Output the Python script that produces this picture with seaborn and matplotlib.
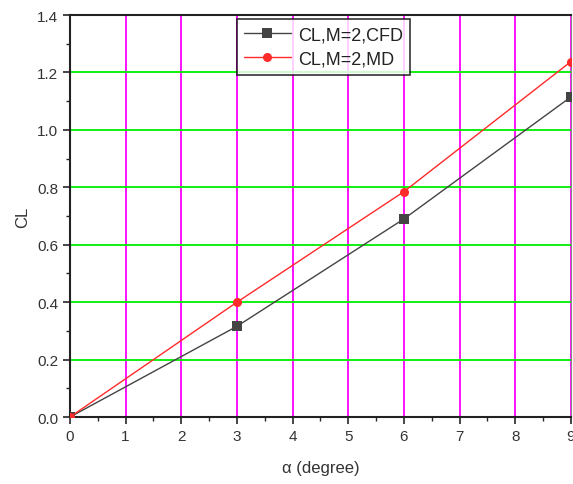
import numpy as np
import matplotlib
matplotlib.use("Agg")
import matplotlib.pyplot as plt
import seaborn as sns
import pandas as pd
from matplotlib.ticker import MultipleLocator

# data
alpha = [0, 3, 6, 9]
cl_cfd = [0.0, 0.316, 0.69, 1.115]
cl_md = [0.0, 0.40, 0.785, 1.238]
series_names = ["CL,M=2,CFD", "CL,M=2,MD"]

df = pd.DataFrame({
    "alpha": alpha * 2,
    "CL": cl_cfd + cl_md,
    "series": [series_names[0]] * len(alpha) + [series_names[1]] * len(alpha),
})

sns.set_style("white")
plt.rcParams["font.family"] = ["Liberation Sans", "DejaVu Sans"]

fig = plt.figure(figsize=(5.73, 4.85), dpi=100)
ax = fig.add_axes([0.122, 0.138, 0.8745, 0.829])

# grid
for x in range(1, 10):
    ax.axvline(x, color="#ff00ff", lw=1.3, zorder=1)
for y in np.arange(0.2, 1.41, 0.2):
    ax.axhline(y, color="#00ee00", lw=1.3, zorder=1)

sns.lineplot(data=df, x="alpha", y="CL", hue="series", style="series",
             palette=["#444444", "#ff2a2a"], markers=["s", "o"], dashes=False,
             markersize=6.5, markeredgewidth=0, lw=1, ax=ax, zorder=3)

ax.set_xlim(0, 9)
ax.set_ylim(0, 1.4)
ax.xaxis.set_major_locator(MultipleLocator(1))
ax.xaxis.set_minor_locator(MultipleLocator(0.5))
ax.yaxis.set_major_locator(MultipleLocator(0.2))
ax.yaxis.set_minor_locator(MultipleLocator(0.1))
ax.yaxis.set_major_formatter(plt.FormatStrFormatter("%.1f"))
ax.tick_params(which="major", direction="out", length=5, width=1.2,
               labelsize=11, labelcolor="#333333", bottom=True, left=True)
ax.tick_params(which="minor", direction="out", length=3, width=1,
               bottom=True, left=True)
for side in ["left", "bottom", "top"]:
    ax.spines[side].set_color("#222222")
    ax.spines[side].set_linewidth(1.5)
ax.spines["right"].set_color("#888888")
ax.spines["right"].set_linewidth(0.8)

ax.set_xlabel("α (degree)", fontsize=12, color="#333333", labelpad=12)
ax.set_ylabel("CL", fontsize=12, color="#333333", labelpad=5)

leg = ax.legend(title=None, loc="upper left", bbox_to_anchor=(0.333, 0.99),
                fontsize=13, frameon=True, fancybox=False, edgecolor="black",
                borderpad=0.4, handlelength=2.6, handletextpad=0.4,
                labelspacing=0.4, borderaxespad=0)
leg.get_frame().set_linewidth(1.2)
for t in leg.get_texts():
    t.set_color("#222222")

fig.savefig("out.png", dpi=100)
